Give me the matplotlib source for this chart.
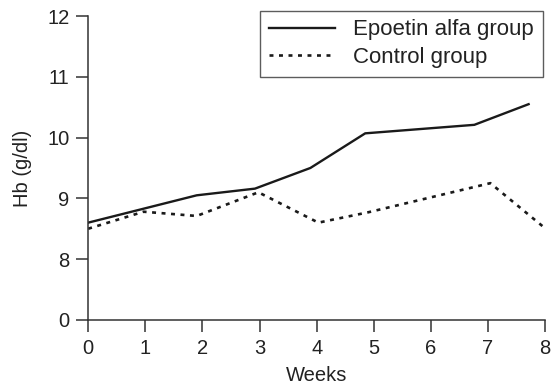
import matplotlib
matplotlib.use("Agg")
import matplotlib.pyplot as plt

plt.rcParams['font.family'] = ['Liberation Sans', 'DejaVu Sans']

# data (Hb in g/dl, week)
epo_weeks = [0, 1.9, 2.92, 3.89, 4.85, 6.76, 7.71]
epo_hb = [8.6, 9.05, 9.16, 9.5, 10.07, 10.21, 10.55]
ctrl_weeks = [0, 0.97, 1.9, 2.98, 4.03, 4.9, 7.04, 7.97]
ctrl_hb = [8.5, 8.78, 8.71, 9.1, 8.6, 8.77, 9.25, 8.53]

y_ticks = [7, 8, 9, 10, 11, 12]   # 7 stands in for the broken axis at 0
y_labels = ['0', '8', '9', '10', '11', '12']
x_ticks = list(range(0, 9))

fs = 14.5

fig = plt.figure(figsize=(5.58, 3.92), dpi=100)
ax = fig.add_axes([0.158, 0.184, 0.819, 0.775])

ax.plot(epo_weeks, epo_hb, color='#1a1a1a', lw=1.7, label='Epoetin alfa group')
ax.plot(ctrl_weeks, ctrl_hb, color='#1a1a1a', lw=1.9, linestyle=(0, (1.5, 2.1)),
        label='Control group')

ax.set_xlim(0, 8)
ax.set_ylim(7, 12)
ax.set_xticks(x_ticks)
ax.set_yticks(y_ticks)
ax.set_yticklabels(y_labels)
ax.spines['top'].set_visible(False)
ax.spines['right'].set_visible(False)
for s in ['left', 'bottom']:
    ax.spines[s].set_color('#333333')
    ax.spines[s].set_linewidth(1.1)
ax.tick_params(direction='out', length=8.5, width=1.1, color='#333333',
               labelsize=fs, labelcolor='#222222', pad=5)

ax.set_xlabel('Weeks', fontsize=fs, color='#222222', labelpad=6)
ax.set_ylabel('Hb (g/dl)', fontsize=fs, color='#222222', labelpad=11)

leg = ax.legend(loc='upper right', bbox_to_anchor=(0.995, 1.018), fontsize=16,
                frameon=True, fancybox=False, edgecolor='#333333',
                handlelength=3.0, handletextpad=0.8, borderpad=0.4,
                labelspacing=0.3, borderaxespad=0.0)
leg.get_frame().set_linewidth(1.0)
for t in leg.get_texts():
    t.set_color('#222222')

fig.savefig('out.png', dpi=100)
